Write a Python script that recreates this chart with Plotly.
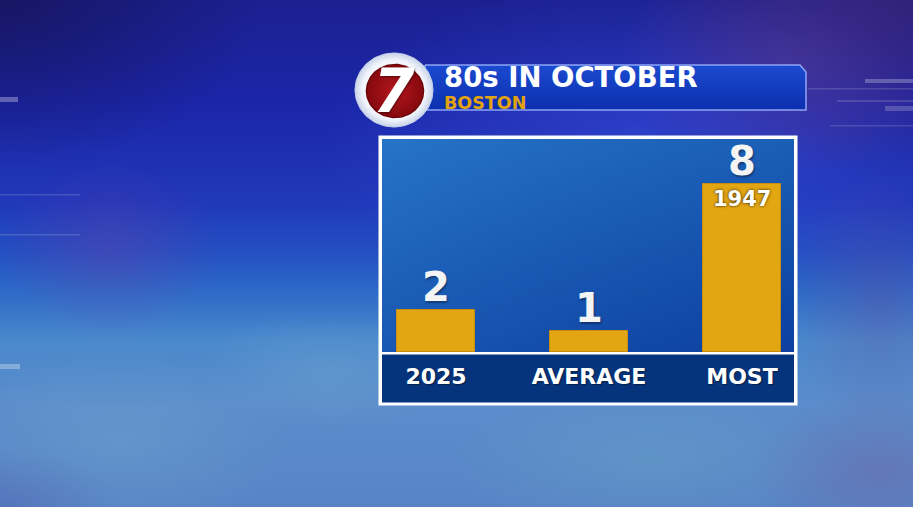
import numpy as np
import plotly.graph_objects as go

# ---- data ----
categories = ["2025", "AVERAGE", "MOST"]
values = [2, 1, 8]
record_note = ["", "", "1947"]
title_text = "80s IN OCTOBER"
subtitle_text = "BOSTON"
logo_text = "7"

W, H = 913, 507
FONT = "DejaVu Sans"

fig = go.Figure()


def area(xs, ys, fill=None, grad=None, line_color=None, line_width=0):
    kw = dict(x=list(xs), y=list(ys), mode="lines", fill="toself",
              hoverinfo="skip", showlegend=False, xaxis="x", yaxis="y",
              line=dict(color=line_color or "rgba(0,0,0,0)", width=line_width))
    if grad is not None:
        kw["fillgradient"] = grad
    else:
        kw["fillcolor"] = fill
    fig.add_trace(go.Scatter(**kw))


def rect(x0, y0, x1, y1, **kw):
    area([x0, x1, x1, x0, x0], [y0, y0, y1, y1, y0], **kw)


def ellipse(cx, cy, rx, ry, **kw):
    t = np.linspace(0, 2 * np.pi, 120)
    area(cx + rx * np.cos(t), cy + ry * np.sin(t), **kw)


def blob(cx, cy, rx, ry, rgb, a):
    ellipse(cx, cy, rx, ry, grad=dict(type="radial", colorscale=[
        [0, f"rgba({rgb},{a})"], [1, f"rgba({rgb},0)"]]))


# ---- background ----
rect(0, 0, W, H, grad=dict(type="vertical", start=0, stop=H, colorscale=[
    [0, "#1b2090"], [0.2, "#1b25a8"], [0.4, "#2038ba"], [0.5, "#2450c2"],
    [0.58, "#2e6cc8"], [0.67, "#4a88cc"], [0.8, "#5b8ccb"], [1, "#5884c6"]]))
blob(640, 140, 320, 160, "70,95,240", 0.4)
blob(0, 0, 260, 170, "20,15,70", 0.6)
blob(913, 0, 260, 180, "60,30,100", 0.55)
blob(790, 60, 170, 120, "115,70,150", 0.35)
blob(110, 250, 110, 90, "120,60,160", 0.3)
blob(880, 300, 90, 130, "110,70,150", 0.3)
blob(120, 440, 170, 90, "120,175,205", 0.3)
blob(650, 460, 200, 70, "115,185,195", 0.25)
blob(330, 370, 130, 60, "130,185,210", 0.25)
blob(880, 470, 130, 80, "115,90,150", 0.35)
blob(0, 507, 120, 60, "80,80,160", 0.3)
# faint broadcast streaks
rect(0, 97, 18, 102, fill="rgba(255,255,255,0.3)")
rect(0, 194, 80, 195.5, fill="rgba(255,255,255,0.15)")
rect(0, 234, 80, 235.5, fill="rgba(255,255,255,0.15)")
rect(0, 364, 20, 369, fill="rgba(255,255,255,0.3)")
rect(865, 79, W, 83, fill="rgba(255,255,255,0.25)")
rect(808, 88, W, 89.5, fill="rgba(255,255,255,0.15)")
rect(837, 100, W, 102, fill="rgba(255,255,255,0.15)")
rect(885, 106, W, 111, fill="rgba(255,255,255,0.2)")
rect(830, 125, W, 126.5, fill="rgba(255,255,255,0.15)")

# ---- header banner ----
area([425, 800, 806, 806, 425, 425], [65, 65, 72, 110, 110, 65],
     grad=dict(type="vertical", start=65, stop=110,
               colorscale=[[0, "#1b4ad0"], [1, "#0c2fae"]]),
     line_color="rgba(160,185,255,0.85)", line_width=1.5)
ellipse(394, 90, 39, 37, grad=dict(type="radial", colorscale=[
    [0, "#ffffff"], [0.8, "#f2f5fb"], [1, "#c9d4ea"]]),
    line_color="rgba(200,210,235,1)", line_width=1)
ellipse(395, 91, 28.5, 26.5, grad=dict(type="radial", colorscale=[
    [0, "#b3161d"], [1, "#86090e"]]),
    line_color="#6e0609", line_width=1.5)

# ---- chart panel ----
rect(378.5, 135.5, 797.5, 405.5, fill="#ffffff")
rect(382, 139, 794, 352, grad=dict(type="vertical", start=139, stop=352,
                                   colorscale=[[0, "#1f6cc1"], [1, "#0d45a5"]]))
rect(382, 139, 794, 352, grad=dict(type="horizontal", start=382, stop=794,
                                   colorscale=[[0, "rgba(60,140,220,0.25)"],
                                               [1, "rgba(10,40,140,0.2)"]]))
rect(382, 354.5, 794, 402.5, fill="#06347c")

# ---- bars ----
fig.add_trace(go.Bar(
    x=categories, y=values, xaxis="x2", yaxis="y2", width=0.51,
    marker=dict(color="#e3a613", line=dict(color="#c98d0d", width=1)),
    hoverinfo="skip", showlegend=False))

annotations = []
for i, (v, note) in enumerate(zip(values, record_note)):
    annotations.append(dict(
        x=i, y=v, xref="x2", yref="y2", text=str(v), showarrow=False,
        yanchor="bottom", yshift=-2,
        font=dict(family=FONT, size=40, color="#f4f4f4", weight="bold",
                  shadow="1px 2px 2px rgba(0,0,0,0.35)")))
    if note:
        annotations.append(dict(
            x=i, y=v, xref="x2", yref="y2", text=note, showarrow=False,
            yanchor="top", yshift=-1,
            font=dict(family=FONT, size=21, color="#ffffff", weight="bold",
                      shadow="0px 0px 3px #2a1a00")))

annotations += [
    dict(x=443 / W, y=1 - 77 / H, xref="paper", yref="paper", text=title_text,
         showarrow=False, xanchor="left", yanchor="middle", borderpad=0,
         font=dict(family=FONT, size=27.5, color="#ffffff", weight="bold")),
    dict(x=443 / W, y=1 - 103 / H, xref="paper", yref="paper", text=subtitle_text,
         showarrow=False, xanchor="left", yanchor="middle", borderpad=0,
         font=dict(family=FONT, size=17.5, color="#e3a20f", weight="bold")),
    dict(x=394 / W, y=1 - 91 / H, xref="paper", yref="paper", text=logo_text,
         showarrow=False, xanchor="center", yanchor="middle",
         font=dict(family=FONT, size=60, color="#ffffff", weight="bold",
                   style="italic", shadow="1px 1px 2px rgba(0,0,0,0.4)")),
]

fig.update_layout(
    width=W, height=H, margin=dict(l=0, r=0, t=0, b=0),
    paper_bgcolor="#1b2179", plot_bgcolor="rgba(0,0,0,0)",
    xaxis=dict(domain=[0, 1], range=[0, W], visible=False, fixedrange=True),
    yaxis=dict(domain=[0, 1], range=[H, 0], visible=False, fixedrange=True),
    xaxis2=dict(domain=[382 / W, 794 / W], anchor="y2", type="category",
                range=[-0.353, 2.34],
                showgrid=False, zeroline=False, showline=False, ticks="",
                ticklabelstandoff=9, fixedrange=True,
                tickfont=dict(family=FONT, size=22, color="#ffffff", weight="bold",
                              shadow="1px 1px 1px rgba(0,0,0,0.4)")),
    yaxis2=dict(domain=[(H - 352) / H, (H - 139) / H], anchor="x2",
                range=[0, 213 / 21], visible=False, fixedrange=True),
    annotations=annotations,
    bargap=0,
)

fig.write_html("out.html", config={"displayModeBar": False},
               post_script="document.body.style.margin='0';"
                           "document.body.style.overflow='hidden';")
